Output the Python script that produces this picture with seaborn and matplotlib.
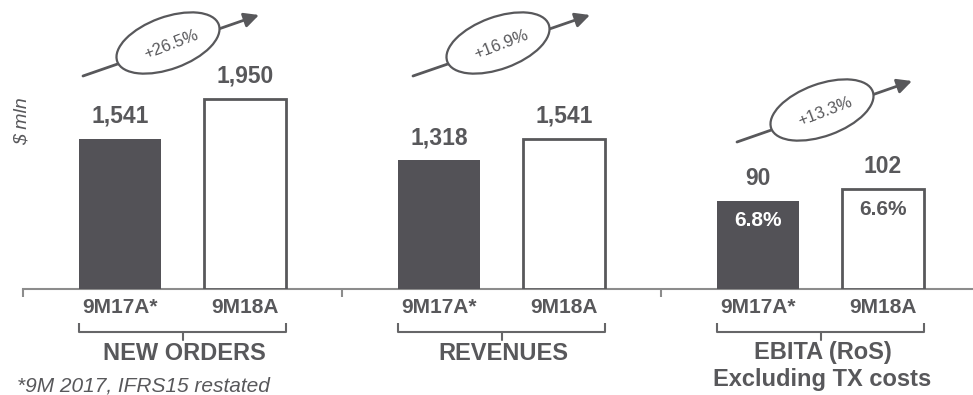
import matplotlib
matplotlib.use("Agg")
import matplotlib.pyplot as plt
import pandas as pd
import seaborn as sns
from matplotlib.patches import Ellipse

# ---- data -------------------------------------------------------------
metrics = ["NEW ORDERS", "REVENUES", "EBITA (RoS)\nExcluding TX costs"]
periods = ["9M17A*", "9M18A"]
new_orders = [1541, 1950]
revenues = [1318, 1541]
ebita = [90, 102]
ros = ["6.8%", "6.6%"]
growth = ["+26.5%", "+16.9%", "+13.3%"]

# ---- style ------------------------------------------------------------
DARK = "#535257"
GREY = "#58585b"
AXIS = "#8c8c8c"

sns.set_theme(style="white")
plt.rcParams["font.family"] = ["Liberation Sans", "DejaVu Sans"]

W, H = 973, 395
BASE = 288.5  # baseline, pixels from the top

fig = plt.figure(figsize=(W / 100, H / 100), dpi=100)
ax = fig.add_axes([23 / W, (H - BASE) / H, 950 / W, BASE / H])
ax2 = ax.twinx()  # EBITA has its own (larger) scale

df_main = pd.DataFrame({
    "metric": [metrics[0]] * 2 + [metrics[1]] * 2,
    "period": periods * 2,
    "value": new_orders + revenues,
})
df_ebita = pd.DataFrame({
    "metric": [metrics[2]] * 2,
    "period": periods,
    "value": ebita,
})

palette = {periods[0]: DARK, periods[1]: "white"}
common = dict(x="metric", y="value", hue="period", order=metrics,
              hue_order=periods, palette=palette, width=0.784, gap=0.35,
              legend=False, saturation=1, errorbar=None)
sns.barplot(data=df_main, ax=ax, **common)
sns.barplot(data=df_ebita, ax=ax2, **common)

for a in (ax, ax2):
    for i, cont in enumerate(a.containers):
        for p in cont:
            if i == 0:
                p.set_edgecolor("none")
            else:
                p.set_edgecolor(GREY)
                p.set_linewidth(2.0)
            p.set_zorder(3)
        a.bar_label(cont, labels=[f"{p.get_height():,.0f}" for p in cont],
                    padding=8, fontsize=16.5, fontweight="bold", color=GREY)

ax.set_ylim(0, 2965)
ax2.set_ylim(0, 297)
ax.set_xlim(-0.5, (W - 182.5) / 319)

for a in (ax, ax2):
    a.set_xlabel("")
    a.set_ylabel("")
    a.set_yticks([])
    for s in a.spines.values():
        s.set_visible(False)
ax.spines["bottom"].set_visible(True)
ax.spines["bottom"].set_color(AXIS)
ax.spines["bottom"].set_linewidth(1.5)

# return-on-sales labels inside the EBITA bars
bars_e = sorted(ax2.patches, key=lambda p: p.get_x())
for p, lab, col in zip(bars_e, ros, ["white", GREY]):
    ax2.annotate(lab, (p.get_x() + p.get_width() / 2, p.get_height()),
                 xytext=(0, -7.5), textcoords="offset points",
                 ha="center", va="top", fontsize=15, fontweight="bold",
                 color=col)

# period labels under each bar, separator ticks between groups
all_bars = sorted(list(ax.patches) + list(ax2.patches), key=lambda p: p.get_x())
centres = [p.get_x() + p.get_width() / 2 for p in all_bars]
ax.set_xticks([-0.5, 0.5, 1.5], labels=["", "", ""])
ax.set_xticks(centres, labels=periods * len(metrics), minor=True)
ax.tick_params(axis="x", which="major", bottom=True, length=5.8, width=1.5,
               color=AXIS, direction="out")
ax.tick_params(axis="x", which="minor", bottom=True, length=0, pad=6.8,
               labelsize=15, labelcolor=GREY)
for t in ax.get_xticklabels(minor=True):
    t.set_fontweight("bold")

# ---- overlay in pixel units for brackets, arrows and notes -------------
deco = fig.add_axes([0, 0, 1, 1], zorder=5)
deco.set_xlim(0, W)
deco.set_ylim(0, H)
deco.axis("off")
deco.patch.set_alpha(0)

for g in range(len(metrics)):
    pair = all_bars[2 * g:2 * g + 2]
    left = ax.transData.transform((pair[0].get_x(), 0))[0]
    right = ax.transData.transform((pair[1].get_x() + pair[1].get_width(), 0))[0]
    mid = (left + right) / 2
    deco.plot([left, left, right, right], [H - 322.7, H - 331.7, H - 331.7, H - 322.7],
              color="#666668", lw=1.5, solid_capstyle="butt")
    deco.plot([mid, mid], [H - 331.7, H - 340], color="#666668", lw=1.5)
    deco.text(mid + 2, H - 341.5, metrics[g], ha="center", va="top",
              fontsize=17, fontweight="bold", color=GREY, linespacing=1.2)

# growth arrows: start, tip, ellipse centre (pixels from top-left)
arrows = [((83, 76), (259, 15), (168, 43)),
          ((413, 76), (590, 15), (498, 43)),
          ((737, 142), (912, 81), (822, 110))]
for (s, t, c), lab in zip(arrows, growth):
    deco.annotate("", xy=(t[0], H - t[1]), xytext=(s[0], H - s[1]),
                  arrowprops=dict(arrowstyle="-|>", lw=2, color=GREY,
                                  mutation_scale=22, shrinkA=0, shrinkB=0))
    deco.add_patch(Ellipse((c[0], H - c[1]), 108, 52, angle=20,
                           facecolor="white", edgecolor=GREY, lw=1.6, zorder=4))
    deco.text(c[0] + 3, H - c[1] - 2, lab, rotation=21, rotation_mode="anchor",
              ha="center", va="center", fontsize=12, color=GREY, zorder=5)

deco.text(22, H - 121, "$ mln", rotation=90, ha="center", va="center",
          fontsize=14, fontstyle="italic", color=GREY)
deco.text(17, 4, "*9M 2017, IFRS15 restated", ha="left", va="baseline",
          fontsize=15, fontstyle="italic", color=GREY)

fig.savefig("out.png", dpi=100)
